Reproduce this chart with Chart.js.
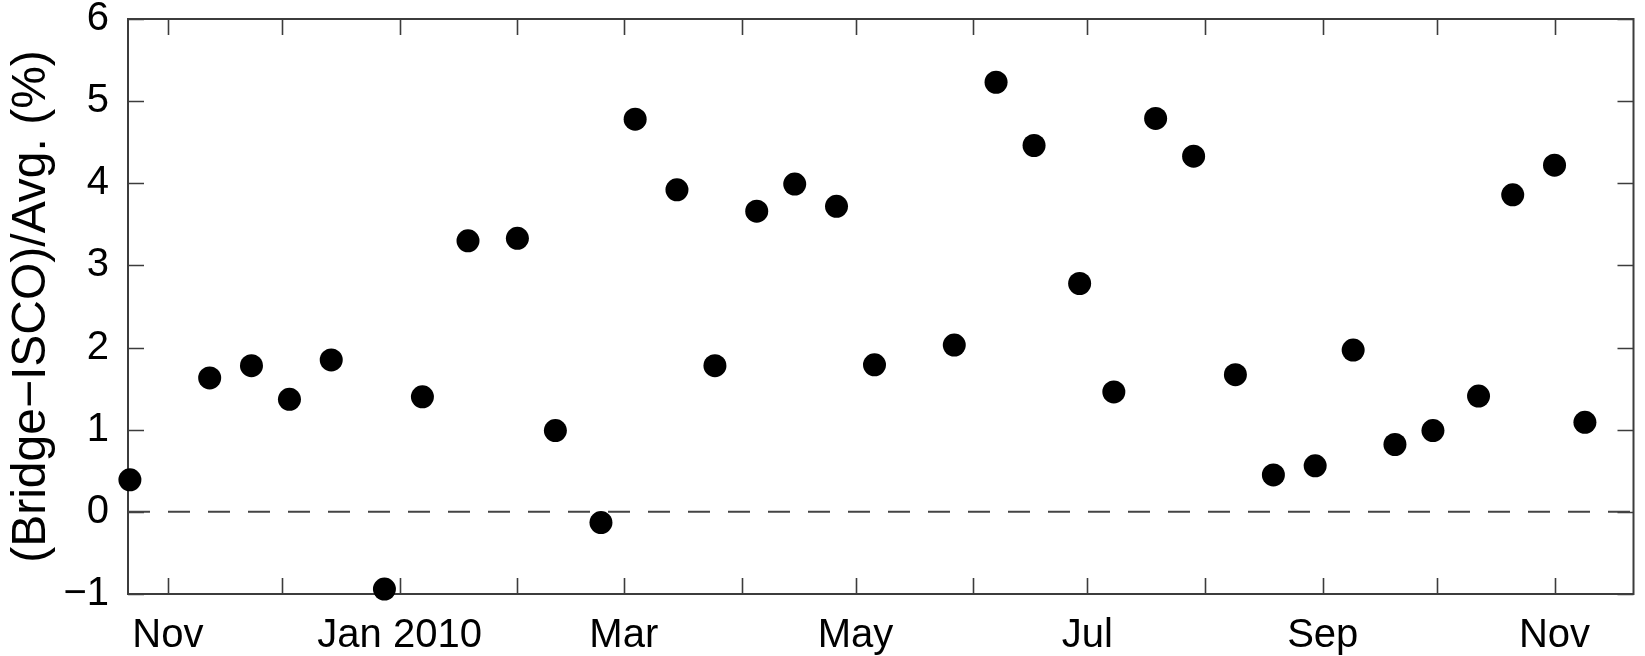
<!DOCTYPE html>
<html>
<head>
<meta charset="utf-8">
<script src="https://cdn.jsdelivr.net/npm/chart.js@4/dist/chart.umd.min.js"></script>
<style>
  html, body { margin: 0; padding: 0; background: #fff; }
  #wrap { width: 1645px; height: 656px; }
</style>
</head>
<body>
<div id="wrap"><canvas id="ratioChart"></canvas></div>
<script>
// sample dates and (Bridge-ISCO)/Avg. values
const sampleDates = [
  '2009-10-22', '2009-11-12', '2009-11-23', '2009-12-03', '2009-12-14',
  '2009-12-28', '2010-01-07', '2010-01-19', '2010-02-01', '2010-02-11',
  '2010-02-23', '2010-03-04', '2010-03-15', '2010-03-25', '2010-04-05',
  '2010-04-15', '2010-04-26', '2010-05-06', '2010-05-27', '2010-06-07',
  '2010-06-17', '2010-06-29', '2010-07-08', '2010-07-19', '2010-07-29',
  '2010-08-09', '2010-08-19', '2010-08-30', '2010-09-09', '2010-09-20',
  '2010-09-30', '2010-10-12', '2010-10-21', '2010-11-01', '2010-11-09'
];
const diffPercent = [
  0.39, 1.63, 1.78, 1.37, 1.85,
  -0.94, 1.40, 3.30, 3.33, 0.99,
  -0.13, 4.78, 3.92, 1.78, 3.66,
  3.99, 3.72, 1.79, 2.03, 5.23,
  4.46, 2.78, 1.46, 4.79, 4.33,
  1.67, 0.45, 0.56, 1.97, 0.82,
  0.99, 1.41, 3.86, 4.22, 1.09
];

// x axis: month ticks, labelled every second month
const monthTicks = [
  '2009-11-01', '2009-12-01', '2010-01-01', '2010-02-01', '2010-03-01',
  '2010-04-01', '2010-05-01', '2010-06-01', '2010-07-01', '2010-08-01',
  '2010-09-01', '2010-10-01', '2010-11-01'
];
const monthLabels = ['Nov', '', 'Jan 2010', '', 'Mar', '', 'May', '', 'Jul', '', 'Sep', '', 'Nov'];
const xRange = ['2009-10-21T12:00:00Z', '2010-11-21T19:00:00Z'];
const yRange = [-1, 6];

const toMs = s => Date.parse(s);
const tickMs = monthTicks.map(toMs);

Chart.defaults.font.family = "'Liberation Sans', Arial, sans-serif";
Chart.defaults.color = '#000';

// box round the plot with inward tick marks on all four sides
const framePlugin = {
  id: 'frame',
  beforeDatasetsDraw(chart) {
    const { ctx, chartArea: a, scales: { x, y } } = chart;
    const len = 16;
    ctx.save();
    ctx.strokeStyle = '#3c3c3c';
    ctx.lineWidth = 2;
    ctx.strokeRect(a.left, a.top, a.right - a.left, a.bottom - a.top);
    ctx.beginPath();
    x.ticks.forEach(t => {
      const px = Math.round(x.getPixelForValue(t.value)) + 0.5;
      ctx.moveTo(px, a.bottom); ctx.lineTo(px, a.bottom - len);
      ctx.moveTo(px, a.top); ctx.lineTo(px, a.top + len);
    });
    y.ticks.forEach(t => {
      const py = Math.round(y.getPixelForValue(t.value)) + 0.5;
      ctx.moveTo(a.left, py); ctx.lineTo(a.left + len, py);
      ctx.moveTo(a.right, py); ctx.lineTo(a.right - len, py);
    });
    ctx.lineWidth = 1.6;
    ctx.stroke();
    ctx.restore();
  }
};

const ctx = document.getElementById('ratioChart').getContext('2d');
new Chart(ctx, {
  type: 'scatter',
  data: {
    datasets: [
      {
        label: 'ratio',
        data: sampleDates.map((d, i) => ({ x: toMs(d), y: diffPercent[i] })),
        backgroundColor: '#000',
        borderColor: '#000',
        pointRadius: 11.5,
        pointHoverRadius: 11.5,
        borderWidth: 0,
        clip: false,
        order: 0
      },
      {
        type: 'line',
        label: 'zero',
        data: [{ x: toMs(xRange[0]), y: 0 }, { x: toMs(xRange[1]), y: 0 }],
        borderColor: '#444',
        borderWidth: 2,
        borderDash: [22, 18],
        pointRadius: 0,
        order: 1
      }
    ]
  },
  options: {
    responsive: true,
    maintainAspectRatio: false,
    animation: false,
    events: [],
    layout: { padding: { top: 19, right: 5, left: 0, bottom: 0 } },
    plugins: { legend: { display: false }, tooltip: { enabled: false } },
    scales: {
      x: {
        type: 'linear',
        min: toMs(xRange[0]),
        max: toMs(xRange[1]),
        grid: { display: false },
        border: { display: false },
        afterBuildTicks: s => { s.ticks = tickMs.map(v => ({ value: v })); },
        afterFit: s => { s.height = 62; s.paddingLeft = 0; s.paddingRight = 0; },
        ticks: {
          autoSkip: false,
          maxRotation: 0,
          padding: 10,
          font: { size: 40 },
          callback: (v) => {
            const i = tickMs.indexOf(v);
            return i >= 0 ? monthLabels[i] : '';
          }
        }
      },
      y: {
        min: yRange[0],
        max: yRange[1],
        grid: { display: false },
        border: { display: false },
        afterFit: s => { s.width = 128; s.paddingTop = 0; s.paddingBottom = 0; },
        ticks: {
          stepSize: 1,
          padding: 11,
          font: { size: 40 },
          callback: v => (v < 0 ? '\u2212' + Math.abs(v) : String(v))
        },
        title: {
          display: true,
          text: '(Bridge\u2212ISCO)/Avg. (%)',
          font: { size: 48 },
          padding: { top: 3, bottom: 0 }
        }
      }
    }
  },
  plugins: [framePlugin]
});
</script>
</body>
</html>
